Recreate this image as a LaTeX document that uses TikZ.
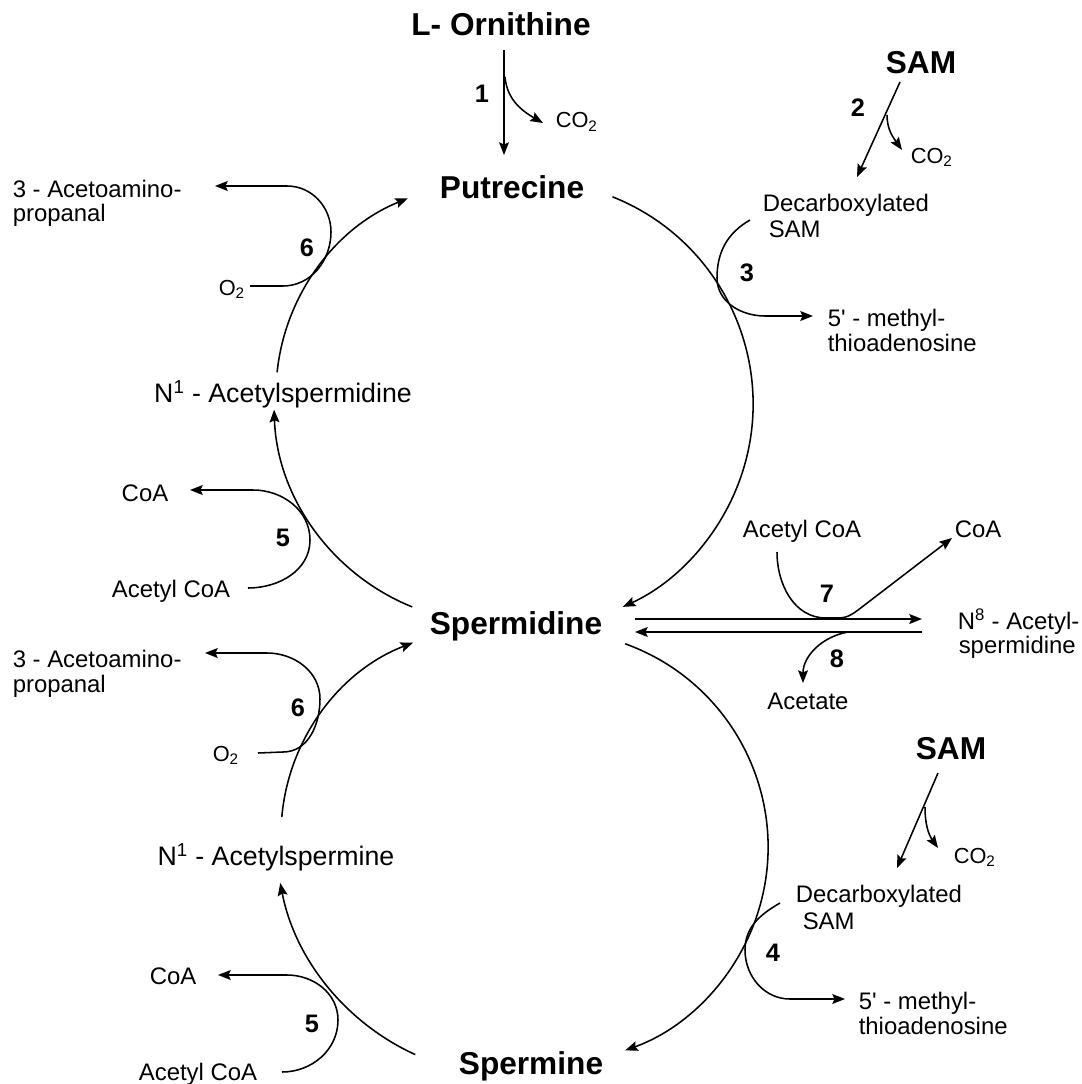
\documentclass[tikz,border=0pt]{standalone}
\usepackage{fontspec}
\setmainfont{Liberation Sans}
\usetikzlibrary{arrows.meta}
\begin{document}
\begin{tikzpicture}[x=0.025cm,y=-0.025cm,
  line width=1.1pt,
  tip/.style={-{Stealth[length=9pt,width=7pt,inset=1.5pt]}},
  big/.style={inner sep=0pt,font=\fontsize{22.5}{26}\selectfont\bfseries},
  med/.style={inner sep=0pt,font=\fontsize{19}{22}\selectfont},
  sml/.style={inner sep=0pt,font=\fontsize{17}{20}\selectfont},
  cox/.style={inner sep=0pt,font=\fontsize{15.5}{18}\selectfont},
  num/.style={inner sep=0pt,font=\fontsize{18}{20}\selectfont\bfseries},
]
\useasboundingbox (0,0) rectangle (1081,1084);

% main metabolites
\node[big,anchor=base] (orn) at (501,36) {L- Ornithine};
\node[big,anchor=base] (put) at (512,198) {Putrecine};
\node[big,anchor=base] (spd) at (516,634) {Spermidine};
\node[big,anchor=base] (spm) at (531,1074) {Spermine};
\node[big,anchor=base] (samA) at (921,73) {SAM};
\node[big,anchor=base] (samB) at (951,759) {SAM};
\node[med,anchor=base] (nspd) at (283,402) {N\textsuperscript{1} - Acetylspermidine};
\node[med,anchor=base] (nspm) at (276,865) {N\textsuperscript{1} - Acetylspermine};

% side products
\node[sml,anchor=base west] (acaA1) at (12,197) {3 - Acetoamino-};
\node[sml,anchor=base west] (acaA2) at (12,221) {propanal};
\node[sml,anchor=base west] (acaB1) at (12,667) {3 - Acetoamino-};
\node[sml,anchor=base west] (acaB2) at (12,692) {propanal};
\node[sml,anchor=base] (coaA) at (145,501) {CoA};
\node[sml,anchor=base] (accA) at (171,597) {Acetyl CoA};
\node[sml,anchor=base] (coaB) at (173,984) {CoA};
\node[sml,anchor=base] (accB) at (198,1080) {Acetyl CoA};
\node[sml,anchor=base] (accC) at (802,537) {Acetyl CoA};
\node[sml,anchor=base] (coaC) at (978,537) {CoA};
\node[sml,anchor=base] (act) at (808,709) {Acetate};
\node[sml,anchor=base west] (n8a) at (957,629) {N\textsuperscript{8} - Acetyl-};
\node[sml,anchor=base west] (n8b) at (958,653) {spermidine};
\node[sml,anchor=base west] (dsA1) at (762,211) {Decarboxylated};
\node[sml,anchor=base west] (dsA2) at (768,237) {SAM};
\node[sml,anchor=base west] (mtA1) at (827,326) {5\textquotesingle{} - methyl-};
\node[sml,anchor=base west] (mtA2) at (827,351) {thioadenosine};
\node[sml,anchor=base west] (dsB1) at (795,902) {Decarboxylated};
\node[sml,anchor=base west] (dsB2) at (802,929) {SAM};
\node[sml,anchor=base west] (mtB1) at (858,1009) {5\textquotesingle{} - methyl-};
\node[sml,anchor=base west] (mtB2) at (858,1034) {thioadenosine};
\node[cox,anchor=base west] (co2A) at (555,128) {CO\textsubscript{2}};
\node[cox,anchor=base west] (co2B) at (910,163) {CO\textsubscript{2}};
\node[cox,anchor=base west] (co2C) at (953,863) {CO\textsubscript{2}};
\node[cox,anchor=base west] (o2A) at (218,295) {O\textsubscript{2}};
\node[cox,anchor=base west] (o2B) at (212,761) {O\textsubscript{2}};

% enzyme numbers
\node[num,anchor=base] (n1) at (482,102) {1};
\node[num,anchor=base] (n2) at (858,116) {2};
\node[num,anchor=base] (n3) at (747,281) {3};
\node[num,anchor=base] (n4) at (773,961) {4};
\node[num,anchor=base] (n5a) at (283,546) {5};
\node[num,anchor=base] (n5b) at (312,1032) {5};
\node[num,anchor=base] (n6a) at (307,256) {6};
\node[num,anchor=base] (n6b) at (298,716) {6};
\node[num,anchor=base] (n7) at (827,602) {7};
\node[num,anchor=base] (n8) at (837,667) {8};

% reaction 1
\coordinate (r1a) at (504,50);
\coordinate (r1b) at (504,155);
\coordinate (r1c) at (505,77);
\coordinate (r1d) at (543,123);
\draw[tip] (r1a) -- (r1b);
\draw[tip] (r1c) to[out=-85,in=150] (r1d);

% reaction 2 (top and bottom SAM)
\coordinate (r2a) at (900,82);
\coordinate (r2b) at (857,177);
\coordinate (r2c) at (887,115);
\coordinate (r2d) at (902,150);
\draw[tip] (r2a) -- (r2b);
\draw[tip] (r2c) to[out=-90,in=125] (r2d);
\coordinate (r2e) at (938,773);
\coordinate (r2f) at (897,868);
\coordinate (r2g) at (925,807);
\coordinate (r2h) at (938,848);
\draw[tip] (r2e) -- (r2f);
\draw[tip] (r2g) to[out=-90,in=125] (r2h);

% reaction 3
\coordinate (r3a) at (750,220);
\coordinate (r3b) at (717,278);
\coordinate (r3c) at (765,316);
\coordinate (r3d) at (813,316);
\draw[tip] (r3a) to[out=210,in=90] (r3b) to[out=-90,in=180] (r3c) -- (r3d);

% reaction 4
\coordinate (r4a) at (780,903);
\coordinate (r4b) at (745,950);
\coordinate (r4c) at (790,999);
\coordinate (r4d) at (845,999);
\draw[tip] (r4a) to[out=210,in=90] (r4b) to[out=-90,in=180] (r4c) -- (r4d);

% reaction 6 (upper, lower)
\coordinate (r6a) at (250,286);
\coordinate (r6b) at (283,286);
\coordinate (r6c) at (331,232);
\coordinate (r6d) at (287,186);
\coordinate (r6e) at (215,186);
\draw[tip] (r6a) -- (r6b) to[out=0,in=-90] (r6c) to[out=90,in=0] (r6d) -- (r6e);
\coordinate (r6f) at (258,753);
\coordinate (r6g) at (283,752);
\coordinate (r6h) at (320,699);
\coordinate (r6i) at (267,653);
\coordinate (r6j) at (205,653);
\draw[tip] (r6f) -- (r6g) to[out=0,in=-90] (r6h) to[out=90,in=0] (r6i) -- (r6j);

% reaction 5 (upper, lower)
\coordinate (r5a) at (248,588);
\coordinate (r5b) at (310,540);
\coordinate (r5c) at (253,490);
\coordinate (r5d) at (190,490);
\draw[tip] (r5a) to[out=0,in=-90] (r5b) to[out=90,in=0] (r5c) -- (r5d);
\coordinate (r5e) at (282,1072);
\coordinate (r5f) at (338,1020);
\coordinate (r5g) at (287,975);
\coordinate (r5h) at (218,975);
\draw[tip] (r5e) to[out=0,in=-90] (r5f) to[out=90,in=0] (r5g) -- (r5h);

% reactions 7 and 8
\coordinate (h1a) at (635,619);
\coordinate (h1b) at (922,619);
\coordinate (h2a) at (922,632);
\coordinate (h2b) at (635,632);
\draw[tip] (h1a) -- (h1b);
\draw[tip] (h2a) -- (h2b);
\coordinate (r7a) at (777,552);
\coordinate (r7b) at (826,618);
\coordinate (r7c) at (838,618);
\coordinate (r7d) at (862,607);
\coordinate (r7e) at (952,538);
\draw[tip] (r7a) to[out=-90,in=180] (r7b) -- (r7c) to[out=0,in=217] (r7d) -- (r7e);
\coordinate (r8a) at (848,632);
\coordinate (r8b) at (803,683);
\draw[tip] (r8a) to[out=190,in=90] (r8b);

% main cycle arcs
\coordinate (aTR) at (612.5,196.8);
\draw[tip] (aTR) arc[start angle=68.3,end angle=-65.4,radius=5.575cm];
\coordinate (aBR) at (625.2,643.8);
\draw[tip] (aBR) arc[start angle=70.2,end angle=-70.2,radius=5.4cm];
\coordinate (aA) at (277.1,372.3);
\draw[tip] (aA) arc[start angle=174.1,end angle=112,radius=5.275cm];
\coordinate (aB) at (412.2,606.9);
\draw[tip] (aB) arc[start angle=248,end angle=182,radius=5.525cm];
\coordinate (aC) at (281.8,817);
\draw[tip] (aC) arc[start angle=175,end angle=111,radius=5.15cm];
\coordinate (aD) at (415.3,1054.6);
\draw[tip] (aD) arc[start angle=245.5,end angle=190.9,radius=5.95cm];
\end{tikzpicture}
\end{document}
